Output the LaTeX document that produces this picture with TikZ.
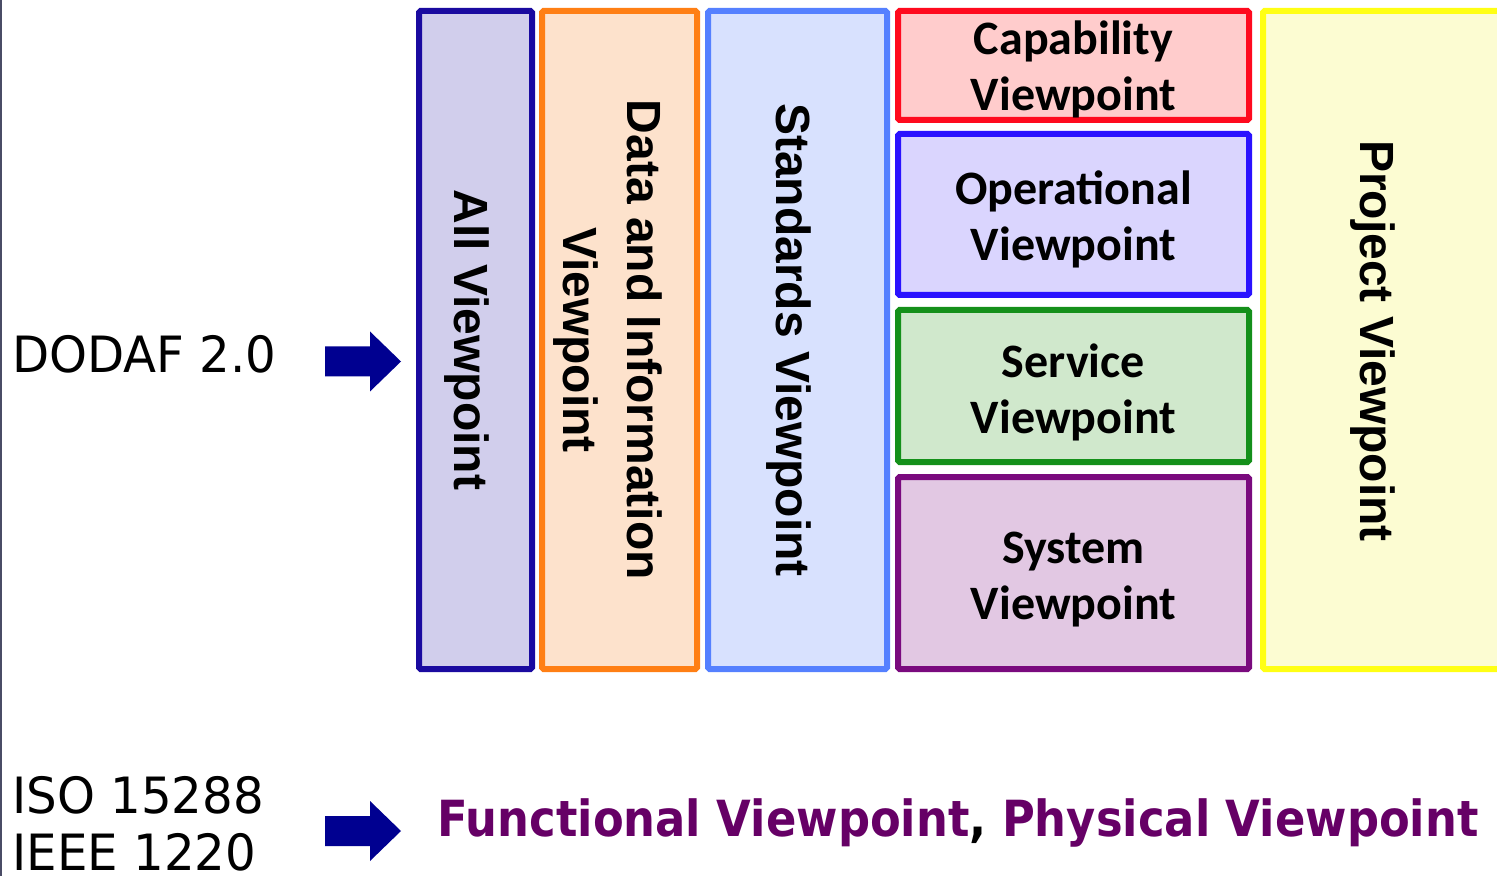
\documentclass[tikz,border=0pt]{standalone}
\usepackage{fontspec}
\usetikzlibrary{fit}

% Families used by the chart
\newfontfamily\sidefont[FakeStretch=0.965]{DejaVu Sans}
\newfontfamily\notefont[FakeStretch=0.9]{DejaVu Sans}
\newfontfamily\colfont{Liberation Sans}
\newfontfamily\cellfont{Carlito}

% Border and fill colours of the viewpoints
\definecolor{allline}{HTML}{1A0AA0}
\definecolor{allfill}{HTML}{D1CEEC}
\definecolor{dataline}{HTML}{FF7F14}
\definecolor{datafill}{HTML}{FDE2CC}
\definecolor{stdline}{HTML}{5580FF}
\definecolor{stdfill}{HTML}{D8E1FE}
\definecolor{capline}{HTML}{FF0A1E}
\definecolor{capfill}{HTML}{FFCCCC}
\definecolor{opline}{HTML}{2A12FF}
\definecolor{opfill}{HTML}{DAD5FE}
\definecolor{svcline}{HTML}{14901A}
\definecolor{svcfill}{HTML}{D0E8CC}
\definecolor{sysline}{HTML}{7A0A7E}
\definecolor{sysfill}{HTML}{E2C8E3}
\definecolor{projline}{HTML}{FFFF14}
\definecolor{projfill}{HTML}{FCFCD2}
\definecolor{arrowblue}{HTML}{000090}
\definecolor{vpurple}{HTML}{660066}
\definecolor{edgegrey}{HTML}{4A4C66}

\begin{document}
\begin{tikzpicture}[x=0.5pt, y=-0.5pt,
  vbox/.style={draw, line width=3pt, inner sep=0pt, rounded corners=0.8pt},
  vtext/.style={font=\colfont\bfseries\fontsize{24}{28}\selectfont,
                rotate=-90, inner sep=0pt, anchor=base},
  ctext/.style={font=\cellfont\bfseries\fontsize{24}{28}\selectfont,
                align=center, inner sep=0pt},
  side/.style={font=\sidefont\fontsize{25}{30}\selectfont,
               anchor=base west, inner sep=0pt},
  blockarrow/.pic={
    \fill[arrowblue] (0,-15) -- (45,-15) -- (45,-30) -- (76,0)
      -- (45,30) -- (45,15) -- (0,15) -- cycle;}
]
\useasboundingbox (0,0) rectangle (1497,876);
\clip (0,0) rectangle (1497,876);

% thin rule along the left edge
\draw[edgegrey, line width=1pt] (0.8,0) -- (0.8,876);

% vertical viewpoint columns
\node[vbox, draw=allline, fill=allfill, fit={(419,11) (532,669)}] (allvp) {};
\node[vbox, draw=dataline, fill=datafill, fit={(542,11) (697,669)}] (datavp) {};
\node[vbox, draw=stdline, fill=stdfill, fit={(708,11) (887,669)}] (stdvp) {};
\node[vbox, draw=projline, fill=projfill, fit={(1263,11) (1540,669)}] (projvp) {};

% stacked viewpoints
\node[vbox, draw=capline, fill=capfill, fit={(898,11) (1249,120)}] (capvp) {};
\node[vbox, draw=opline, fill=opfill, fit={(898,134) (1249,295)}] (opvp) {};
\node[vbox, draw=svcline, fill=svcfill, fit={(898,310) (1249,462)}] (svcvp) {};
\node[vbox, draw=sysline, fill=sysfill, fit={(898,477) (1249,669)}] (sysvp) {};

% column labels, read top to bottom
\node[vtext] (alltext) at (454,340) {All Viewpoint};
\node[vtext] (datatext) at (627,340) {Data and Information};
\node[vtext] (datatext2) at (563,340) {Viewpoint};
\node[vtext] (stdtext) at (776,340) {Standards Viewpoint};
\node[vtext] (projtext) at (1360,341) {Project Viewpoint};

% stacked labels
\node[ctext] (captext) at (1073.5,69) {Capability\\Viewpoint};
\node[ctext] (optext) at (1073.5,219) {Operational\\Viewpoint};
\node[ctext] (svctext) at (1073.5,392) {Service\\Viewpoint};
\node[ctext] (systext) at (1073.5,580) {System\\Viewpoint};

% standards on the left
\node[side] (dodaf) at (12,373) {DODAF 2.0};
\node[side] (iso) at (12,813) {ISO 15288};
\node[side] (ieee) at (12,870) {IEEE 1220};

% block arrows
\pic at (325,361.5) {blockarrow};
\pic at (325,831) {blockarrow};

% viewpoints of the systems engineering standards
\node[anchor=base west, inner sep=0pt, text=vpurple,
      font=\notefont\bfseries\fontsize{24.9}{30}\selectfont] (fpvp) at (437,836)
  {Functional Viewpoint{\color{black},} Physical Viewpoint};
\end{tikzpicture}
\end{document}
